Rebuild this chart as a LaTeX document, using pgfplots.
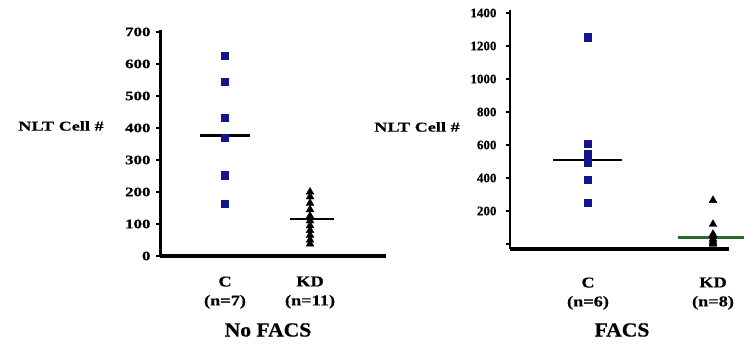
\documentclass[border=0pt]{standalone}
\usepackage{fontspec}
\setmainfont{Liberation Serif}
\newfontfamily\fwide[FakeStretch=1.3, FakeBold=0.5]{Liberation Serif Bold}
\newfontfamily\fplain[FakeBold=0.5]{Liberation Serif Bold}
\newfontfamily\fnlt[FakeStretch=1.35, FakeBold=0.5]{Liberation Serif Bold}
\newfontfamily\fcat[FakeStretch=1.22, FakeBold=0.5]{Liberation Serif Bold}
\newfontfamily\fttl[FakeStretch=1.08, FakeBold=0.6]{Liberation Serif Bold}
\usepackage{pgfplots}
\pgfplotsset{compat=1.18}
\definecolor{navy}{RGB}{20,20,140}
\definecolor{dgreen}{RGB}{40,105,50}
\begin{document}
\begin{tikzpicture}
\useasboundingbox (0pt,0pt) rectangle (744pt,347pt);
% ---------- left panel: No FACS ----------
\begin{axis}[
  at={(160pt,91pt)}, anchor=south west, scale only axis,
  width=226pt, height=226pt,
  xmin=0.235, xmax=2.894, ymin=0, ymax=706,
  axis x line=bottom, axis y line=left,
  x axis line style={-, line width=3.5pt},
  y axis line style={-, line width=3pt},
  ytick={0,100,...,700},
  /pgf/number format/assume math mode=true,
  /pgf/number format/1000 sep={},
  yticklabel style={font=\fwide\fontsize{13}{13}\selectfont, anchor=east, xshift=-2pt},
  xtick={1,2},
  xticklabels={{C\\(n=7)},{KD\\(n=11)}},
  xticklabel style={align=center, font=\fcat\fontsize{15}{19}\selectfont, yshift=-13pt},
  x tick style={draw=none},
  y tick style={black, line width=1.5pt},
  tick align=outside, major tick length=4pt,
  clip=false,
]
\addplot[only marks, mark=square*, mark size=3.6pt, color=navy]
  coordinates {(1,625) (1,545) (1,432) (1,370) (1,255) (1,250) (1,163)};
\addplot[only marks, mark=triangle*, mark size=4.5pt, color=black]
  coordinates {(2,200) (2,185) (2,165) (2,145) (2,125) (2,110) (2,95) (2,80) (2,65) (2,50) (2,38)};
\addplot[black, line width=2.5pt] coordinates {(0.706,376) (1.294,376)};
\addplot[black, line width=2.5pt] coordinates {(1.764,115) (2.282,115)};
\end{axis}
% ---------- right panel: FACS ----------
\begin{axis}[
  at={(510pt,98pt)}, anchor=south west, scale only axis,
  width=219pt, height=239pt,
  xmin=0.376, xmax=2.128, ymin=-30, ymax=1418,
  axis x line=bottom, axis y line=left,
  x axis line style={-, line width=3.2pt},
  y axis line style={-, line width=2.7pt},
  ytick={0,200,...,1400},
  yticklabels={,200,400,600,800,1000,1200,1400},
  yticklabel style={font=\fplain\fontsize{13}{13}\selectfont, anchor=east, xshift=-6pt},
  xtick={1,2},
  xticklabels={{C\\(n=6)},{KD\\(n=8)}},
  xticklabel style={align=center, font=\fcat\fontsize{15}{19}\selectfont, yshift=-21pt},
  x tick style={draw=none},
  y tick style={black, line width=1.5pt},
  tick align=outside, major tick length=4pt,
  clip=false,
]
\addplot[only marks, mark=square*, mark size=3.6pt, color=navy]
  coordinates {(1,1253) (1,606) (1,544) (1,493) (1,392) (1,250)};
\addplot[only marks, mark=triangle*, mark size=4.5pt, color=black]
  coordinates {(2,265) (2,120) (2,60) (2,45) (2,30) (2,15) (2,5) (2,0)};
\addplot[black, line width=2.5pt] coordinates {(0.72,509) (1.272,509)};
\addplot[dgreen, line width=2.5pt] coordinates {(1.72,40) (2.28,40)};
\end{axis}
% ---------- labels ----------
\node[font=\fnlt\fontsize{13.5}{14}\selectfont] at (61pt,221pt) {NLT Cell \#};
\node[font=\fnlt\fontsize{13.5}{14}\selectfont] at (417pt,220pt) {NLT Cell \#};
\node[font=\fttl\fontsize{20}{22}\selectfont] at (268pt,17pt) {No FACS};
\node[font=\fttl\fontsize{20}{22}\selectfont] at (622pt,17pt) {FACS};
\end{tikzpicture}
\end{document}
